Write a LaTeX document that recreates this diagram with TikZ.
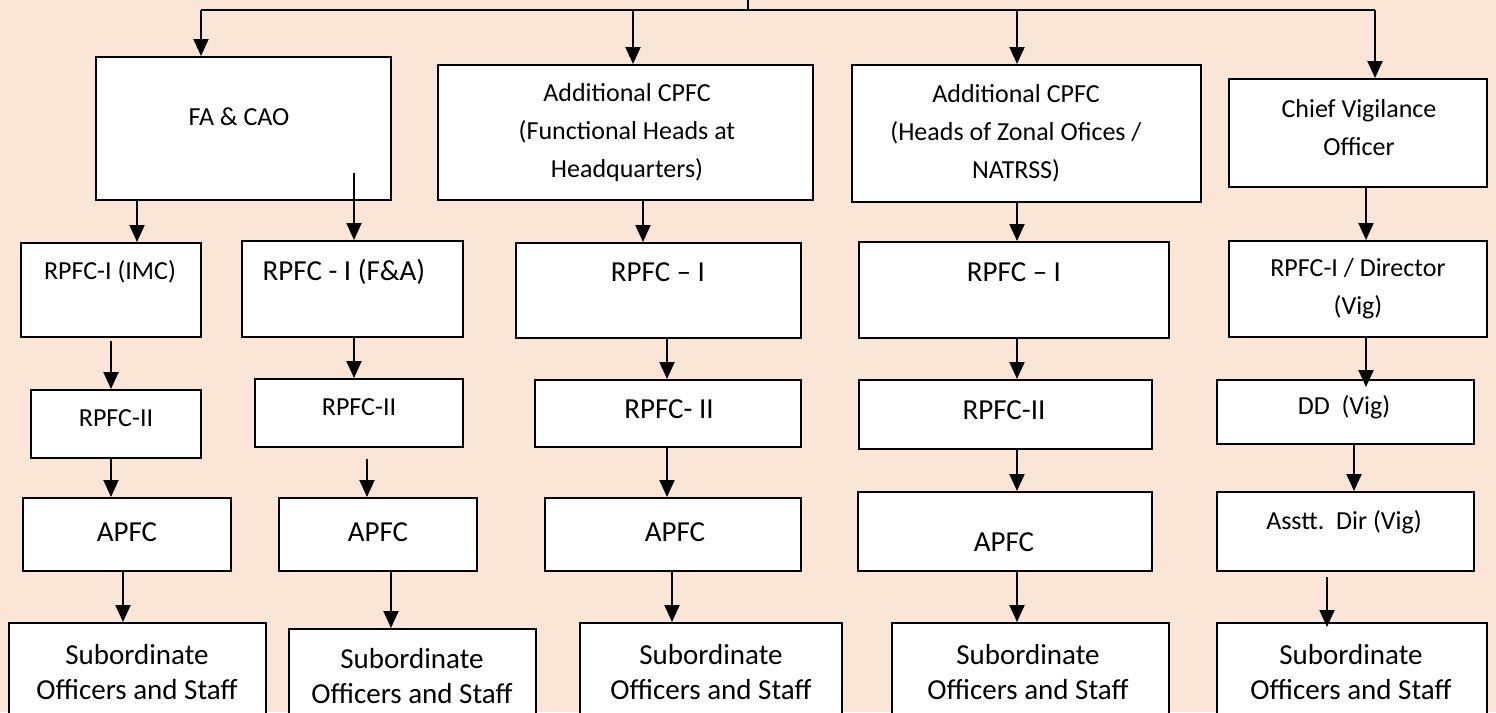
\documentclass[tikz,border=0pt]{standalone}
\usepackage{fontspec}
\setmainfont{Carlito}
\usetikzlibrary{arrows.meta,fit}
\definecolor{peach}{HTML}{FBE5D6}

\begin{document}
\begin{tikzpicture}[x=1pt,y=-1pt,>={Triangle[width=15pt,length=17pt]},
		box/.style={draw,fill=white,line width=2pt,inner sep=0pt},
		lbl/.style={font=\fontsize{26}{38}\selectfont,align=center,inner sep=0pt},
		big/.style={font=\fontsize{29}{35}\selectfont,align=center,inner sep=0pt},
		link/.style={->,line width=2pt}]
		\useasboundingbox (0,0) rectangle (1496,712);
		\fill[peach] (0,0) rectangle (1496,712);
		\clip (0,0) rectangle (1496,712);

		% first level
		\node[box, fit={(96,57) (391,200)}] (fa) {};
		\node[box, fit={(438,65) (813,200)}] (func) {};
		\node[box, fit={(852,65) (1201,202)}] (heads) {};
		\node[box, fit={(1229,79) (1487,187)}] (chief) {};
		\node[lbl] (fa-t) at (239,117) {FA \& CAO};
		\node[lbl] (func-t) at (627,133) {Additional CPFC\\(Functional Heads at\\Headquarters)};
		\node[lbl] (heads-t) at (1016,133) {Additional CPFC\\(Heads of Zonal Ofices /\\NATRSS)};
		\node[lbl] (chief-t) at (1359,128) {Chief Vigilance\\Officer};

		% RPFC-I
		\node[box, fit={(21,243) (201,337)}] (imc) {};
		\node[box, fit={(242,241) (463,337)}] (fna) {};
		\node[box, fit={(516,243) (801,338)}] (hq1) {};
		\node[box, fit={(859,242) (1169,338)}] (zo1) {};
		\node[box, fit={(1229,241) (1487,337)}] (dir) {};
		\node[lbl] (imc-t) at (110,272) {RPFC-I (IMC)};
		\node[big] (fna-t) at (344,272) {RPFC - I (F\&A)};
		\node[big] (hq1-t) at (658,272) {RPFC – I};
		\node[big] (zo1-t) at (1014,272) {RPFC – I};
		\node[lbl] (dir-t) at (1358,289) {RPFC-I / Director\\(Vig)};

		% RPFC-II
		\node[box, fit={(31,390) (201,458)}] (imc2) {};
		\node[box, fit={(255,379) (463,447)}] (fna2) {};
		\node[box, fit={(535,380) (801,447)}] (hq2) {};
		\node[box, fit={(859,380) (1152,449)}] (zo2) {};
		\node[box, fit={(1217,380) (1474,444)}] (dd) {};
		\node[lbl] (imc2-t) at (116,418) {RPFC-II};
		\node[lbl] (fna2-t) at (359,407) {RPFC-II};
		\node[big] (hq2-t) at (669,409) {RPFC- II};
		\node[big] (zo2-t) at (1004,410) {RPFC-II};
		\node[lbl] (dd-t) at (1344,407) {DD\ \ (Vig)};

		% APFC
		\node[box, fit={(23,498) (231,571)}] (imc3) {};
		\node[box, fit={(279,498) (477,571)}] (fna3) {};
		\node[box, fit={(545,498) (801,571)}] (hq3) {};
		\node[box, fit={(858,492) (1152,571)}] (zo3) {};
		\node[box, fit={(1217,492) (1474,571)}] (ad) {};
		\node[big] (imc3-t) at (127,532) {APFC};
		\node[big] (fna3-t) at (378,532) {APFC};
		\node[big] (hq3-t) at (675,532) {APFC};
		\node[big] (zo3-t) at (1004,542) {APFC};
		\node[lbl] (ad-t) at (1344,522) {Asstt.\ \ Dir (Vig)};

		% staff
		\node[box, fit={(9,623) (266,730)}] (imc4) {};
		\node[box, fit={(289,629) (536,730)}] (fna4) {};
		\node[box, fit={(580,623) (842,730)}] (hq4) {};
		\node[box, fit={(892,623) (1169,730)}] (zo4) {};
		\node[box, fit={(1217,623) (1487,730)}] (vg4) {};
		\node[big] (imc4-t) at (137,672) {Subordinate\\Officers and Staff};
		\node[big] (fna4-t) at (412,676) {Subordinate\\Officers and Staff};
		\node[big] (hq4-t) at (711,672) {Subordinate\\Officers and Staff};
		\node[big] (zo4-t) at (1028,672) {Subordinate\\Officers and Staff};
		\node[big] (vg4-t) at (1351,672) {Subordinate\\Officers and Staff};

		% top bus
		\coordinate (top) at (748,-5);
		\coordinate (b1) at (201,10);
		\coordinate (b2) at (633,10);
		\coordinate (b3) at (1017,10);
		\coordinate (b4) at (1375,10);
		\draw[line width=2pt] (top) -- (top |- b1);
		\draw[line width=2pt] (b1) -- (b4);
		\draw[link] (b1) -- (b1 |- fa.north);
		\draw[link] (b2) -- (b2 |- func.north);
		\draw[link] (b3) -- (b3 |- heads.north);
		\draw[link] (b4) -- (b4 |- chief.north);

		% columns
		\draw[link] (137,0 |- fa.south) -- (137,0 |- imc.north);
		\draw[link, shorten <=3pt] (111,0 |- imc.south) -- (111,0 |- imc2.north);
		\draw[link] (111,0 |- imc2.south) -- (111,0 |- imc3.north);
		\draw[link] (123,0 |- imc3.south) -- (123,0 |- imc4.north);

		\coordinate (fa-in) at (354,173);
		\draw[link] (fa-in) -- (fa-in |- fna.north);
		\draw[link] (354,0 |- fna.south) -- (354,0 |- fna2.north);
		\draw[link, shorten <=11pt] (367,0 |- fna2.south) -- (367,0 |- fna3.north);
		\draw[link] (391,0 |- fna3.south) -- (391,0 |- fna4.north);

		\draw[link] (643,0 |- func.south) -- (643,0 |- hq1.north);
		\draw[link] (667,0 |- hq1.south) -- (667,0 |- hq2.north);
		\draw[link] (667,0 |- hq2.south) -- (667,0 |- hq3.north);
		\draw[link] (672,0 |- hq3.south) -- (672,0 |- hq4.north);

		\draw[link] (1017,0 |- heads.south) -- (1017,0 |- zo1.north);
		\draw[link] (1017,0 |- zo1.south) -- (1017,0 |- zo2.north);
		\draw[link] (1017,0 |- zo2.south) -- (1017,0 |- zo3.north);
		\draw[link] (1017,0 |- zo3.south) -- (1017,0 |- zo4.north);

		\draw[link] (1366,0 |- chief.south) -- (1366,0 |- dir.north);
		\draw[link, shorten >=-8pt] (1366,0 |- dir.south) -- (1366,0 |- dd.north);
		\draw[link] (1354,0 |- dd.south) -- (1354,0 |- ad.north);
		\draw[link, shorten <=5pt, shorten >=-5pt] (1327,0 |- ad.south) -- (1327,0 |- vg4.north);
	\end{tikzpicture}
\end{document}
